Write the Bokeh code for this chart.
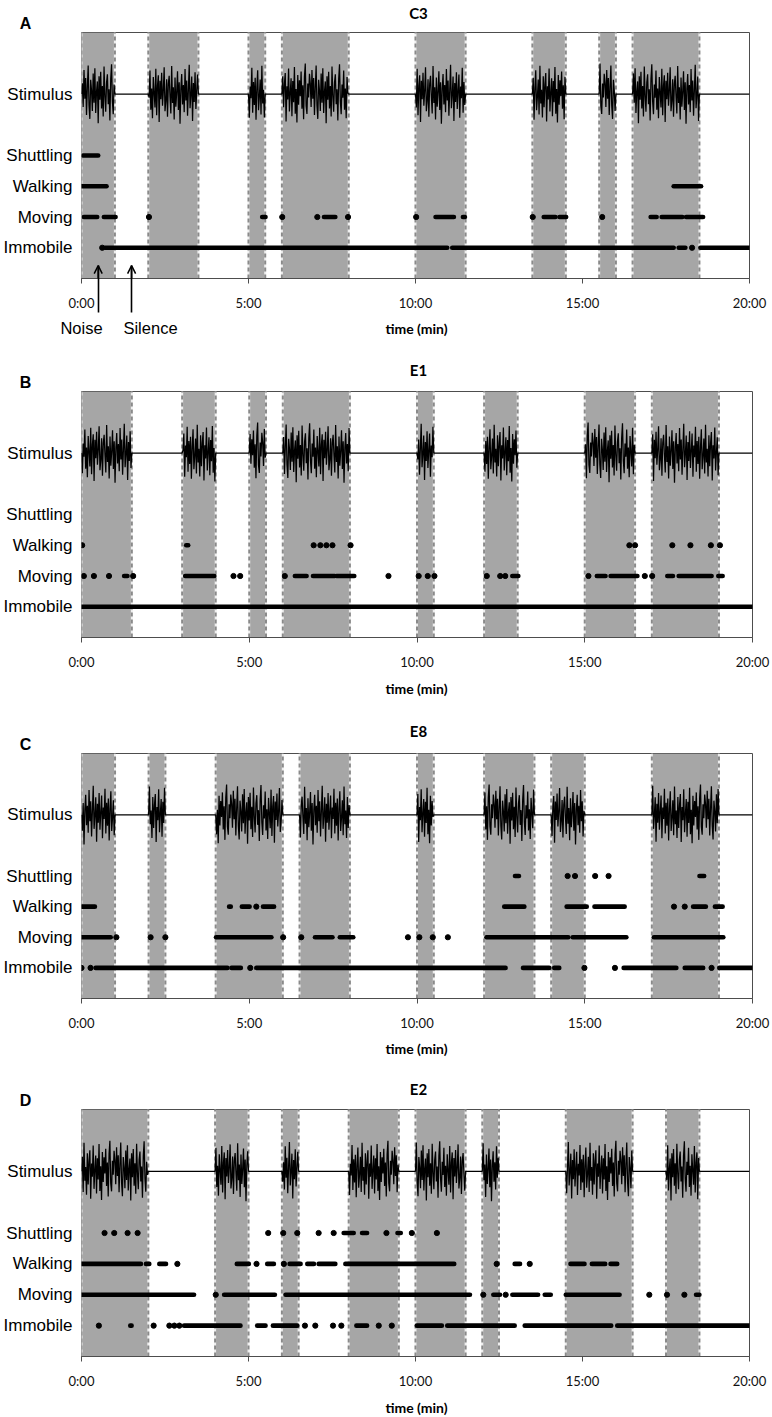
from bokeh.plotting import figure
from bokeh.models import FixedTicker, Arrow, OpenHead, Range1d
from bokeh.core.properties import value
from bokeh.embed import file_html
from bokeh.resources import INLINE

# ---------------- data ----------------
TIME_TICKS = [0, 5, 10, 15, 20]
TIME_LABELS = ["0:00", "5:00", "10:00", "15:00", "20:00"]
ROW_NAMES = ["Immobile", "Moving", "Walking", "Shuttling", "Stimulus"]
ROW_LEVELS = [1, 2, 3, 4, 6]
PANEL_LETTERS = ["A", "B", "C", "D"]
PANEL_TITLES = ["C3", "E1", "E8", "E2"]

# hand-read noise amplitudes of the stimulus trace (relative, -1..1)
NOISE = [
    0.35, -0.42, 0.78, -0.15, 0.52, -0.68, 0.21, 0.93, -0.37, -0.81, 0.46, 0.12, -0.55, 0.67, -0.28, 0.84, -0.62, 0.08, 0.41, -0.95,
    0.58, -0.19, 0.72, -0.47, 0.26, -0.73, 0.89, -0.05, -0.58, 0.37, 0.64, -0.33, 0.15, -0.86, 0.49, 0.97, -0.24, -0.66, 0.31, -0.12,
    0.76, -0.51, 0.18, -0.79, 0.55, 0.03, -0.44, 0.82, -0.69, 0.27, 0.61, -0.91, 0.43, -0.17, 0.69, -0.38, 0.11, 0.87, -0.56, -0.23,
    0.48, -0.74, 0.33, 0.59, -0.08, -0.63, 0.91, -0.29, 0.22, -0.83, 0.54, -0.41, 0.06, 0.74, -0.52, 0.38, -0.97, 0.17, 0.65, -0.34,
    0.29, -0.59, 0.81, -0.21, 0.44, -0.71, 0.13, 0.95, -0.46, -0.02, 0.57, -0.88, 0.36, -0.26, 0.71, -0.49, 0.09, 0.63, -0.77, 0.24,
    -0.14, 0.85, -0.61, 0.39, -0.36, 0.53, -0.84, 0.19, 0.77, -0.53, -0.09, 0.47, -0.67, 0.92, -0.31, 0.14, -0.76, 0.58, -0.43, 0.32,
    0.68, -0.89, 0.25, -0.18, 0.83, -0.57, 0.04, 0.51, -0.72, 0.42, -0.27, 0.88, -0.64, 0.16, -0.93, 0.62, -0.35, 0.45, -0.07, 0.73,
    -0.48, 0.28, -0.82, 0.56, 0.99, -0.39, -0.65, 0.34, -0.11, 0.66,
]
NOISE_STEP = 1 / 40  # minutes between stimulus samples

# Panel A (C3)
A_blocks = [(0, 1), (2, 3.5), (5, 5.5), (6, 8), (10, 11.5), (13.5, 14.5), (15.5, 16), (16.5, 18.5)]
A_shuttling = [(0.05, 0.5)]
A_walking = [(0.0, 0.75), (17.73, 18.55)]
A_moving = [(0.07, 0.47), (0.67, 1.02), (2.02, 2.02), (5.41, 5.51), (6.01, 6.01), (7.06, 7.06), (7.26, 7.6),
            (7.98, 7.98), (10.02, 10.02), (10.6, 11.15), (11.42, 11.48), (13.51, 13.51), (13.84, 14.19),
            (14.31, 14.51), (15.59, 15.59), (17.04, 17.22), (17.37, 17.99), (18.1, 18.61)]
A_immobile = [(0.62, 0.62), (0.7, 10.95), (11.1, 17.73), (17.88, 18.08), (18.28, 18.28), (18.53, 20.0)]

# Panel B (E1)
B_blocks = [(0, 1.5), (3, 4), (5, 5.5), (6, 8), (10, 10.5), (12, 13), (15, 16.5), (17, 19)]
B_shuttling = []
B_walking = [(0.02, 0.02), (3.12, 3.18), (6.92, 6.92), (7.12, 7.12), (7.3, 7.3), (7.48, 7.48), (8.02, 8.02),
             (16.33, 16.33), (16.5, 16.5), (17.61, 17.61), (18.15, 18.15), (18.76, 18.76), (19.03, 19.03)]
B_moving = [(0.07, 0.07), (0.37, 0.37), (0.82, 0.82), (1.27, 1.37), (1.54, 1.54), (3.09, 3.96), (4.53, 4.53),
            (4.73, 4.73), (6.06, 6.06), (6.36, 6.71), (6.9, 7.55), (7.6, 8.13), (9.15, 9.15), (10.05, 10.05),
            (10.32, 10.32), (10.52, 10.52), (12.08, 12.08), (12.48, 12.48), (12.63, 12.63), (12.84, 13.02),
            (15.11, 15.11), (15.36, 15.62), (15.77, 16.57), (16.79, 16.79), (17.01, 17.01), (17.46, 17.63),
            (17.8, 18.78), (18.98, 19.11)]
B_immobile = [(0.0, 20.0)]

# Panel C (E8)
C_blocks = [(0, 1), (2, 2.5), (4, 6), (6.5, 8), (10, 10.5), (12, 13.5), (14, 15), (17, 19)]
C_shuttling = [(12.92, 13.04), (14.49, 14.49), (14.71, 14.71), (15.31, 15.31), (15.71, 15.71), (18.42, 18.56)]
C_walking = [(0.02, 0.4), (4.4, 4.45), (4.78, 5.01), (5.21, 5.21), (5.41, 5.74), (12.6, 13.2), (14.46, 15.06),
             (15.29, 16.19), (17.66, 17.66), (17.98, 17.98), (18.23, 18.61), (18.88, 19.11)]
C_moving = [(0.0, 0.87), (1.04, 1.04), (2.06, 2.06), (2.5, 2.5), (4.01, 5.66), (6.01, 6.01), (6.55, 6.55),
            (6.96, 7.48), (7.7, 8.1), (9.73, 9.73), (10.07, 10.07), (10.47, 10.47), (10.92, 10.92),
            (12.07, 14.51), (14.64, 16.24), (17.06, 19.13)]
C_immobile = [(0.0, 0.0), (0.27, 0.27), (0.42, 4.35), (4.47, 4.75), (5.03, 5.03), (5.21, 12.64), (13.16, 13.94),
              (14.09, 14.24), (14.99, 14.99), (15.9, 15.9), (16.16, 17.73), (17.98, 18.53), (18.78, 18.78),
              (19.01, 20.0)]

# Panel D (E2)
D_blocks = [(0, 2), (4, 5), (6, 6.5), (8, 9.5), (10, 11.5), (12, 12.5), (14.5, 16.5), (17.5, 18.5)]
D_shuttling = [(0.69, 0.69), (0.98, 0.98), (1.38, 1.38), (1.68, 1.68), (5.59, 5.59), (6.04, 6.04), (6.46, 6.46),
               (7.1, 7.1), (7.55, 7.55), (7.85, 8.15), (8.4, 8.55), (9.13, 9.13), (9.46, 9.56), (9.89, 9.89),
               (10.64, 10.64)]
D_walking = [(0.0, 1.78), (1.93, 2.03), (2.33, 2.53), (2.87, 2.87), (4.65, 5.01), (5.24, 5.24), (5.56, 5.76),
             (6.06, 6.06), (6.23, 6.56), (6.76, 6.96), (7.1, 7.6), (7.9, 11.16), (12.43, 12.43), (12.97, 13.13),
             (13.42, 13.42), (14.64, 15.06), (15.28, 15.68), (15.84, 16.04)]
D_moving = [(0.0, 3.37), (4.02, 4.02), (4.27, 5.79), (6.11, 11.63), (12.03, 12.03), (12.33, 12.53), (12.7, 12.7),
            (12.9, 13.67), (13.87, 14.05), (14.5, 16.11), (17.0, 17.0), (17.53, 17.53), (18.05, 18.05),
            (18.4, 18.5)]
D_immobile = [(0.52, 0.52), (1.46, 1.5), (2.16, 2.16), (2.63, 2.63), (2.78, 2.78), (2.93, 2.93), (3.07, 4.76),
              (5.26, 5.51), (5.73, 6.46), (6.69, 6.69), (7.0, 7.0), (7.53, 7.53), (7.78, 7.78), (8.23, 8.55),
              (8.9, 8.9), (9.29, 9.29), (10.04, 10.79), (10.95, 12.97), (13.27, 15.86), (16.04, 20.0)]

# ---------------- drawing ----------------
X_MAX, Y_MAX = 20, 8
PAGE_W = 772
FRAME_LEFT = 81
B_BOTTOM = 40
OUTLINE = "#4d4d4d"
SHADE = "#a6a6a6"
LABEL_FONT = "Liberation Sans"
CAL_FONT = "Lato"
TICK_OUT = 5
LABEL_GAP = 16      # tick length + standoff between frame bottom and the time labels
ARROW_TAIL = 34     # how far the arrow shafts reach below the frame
ARROW_IN = 13       # how far the arrow shafts reach into the frame


def stimulus_trace(blocks, k0):
    xs, ys = [0.0], [6.0]
    k = k0
    for s, e in blocks:
        n = int(round((e - s) / NOISE_STEP))
        xs.append(s)
        ys.append(6.0)
        for i in range(1, n):
            xs.append(s + i * NOISE_STEP)
            ys.append(6.0 + NOISE[k % len(NOISE)])
            k += 1
        xs.append(e)
        ys.append(6.0)
    xs.append(float(X_MAX))
    ys.append(6.0)
    return xs, ys


def draw_row(p, intervals, level):
    runs = [(s, e) for s, e in intervals if e > s]
    pts = [s for s, e in intervals if e == s]
    if runs:
        p.segment(x0=[r[0] for r in runs], x1=[r[1] for r in runs],
                  y0=[level] * len(runs), y1=[level] * len(runs),
                  line_width=4.6, line_color="black", line_cap="round")
    if pts:
        p.scatter(x=pts, y=[level] * len(pts), size=5.2, color="black")


def make_panel(blocks, shuttling, walking, moving, immobile, frame_h, frame_right, k0, arrows=False):
    p = figure(width=PAGE_W, height=frame_h + B_BOTTOM, x_range=(0, X_MAX), y_range=(0, Y_MAX),
               output_backend="svg", toolbar_location=None, title=None,
               min_border_left=FRAME_LEFT, min_border_right=PAGE_W - frame_right,
               min_border_top=0, min_border_bottom=B_BOTTOM)
    p.background_fill_color = "white"
    p.border_fill_color = "white"
    p.outline_line_color = OUTLINE
    p.outline_line_width = 1
    p.xgrid.grid_line_color = None
    p.ygrid.grid_line_color = None

    # shaded noise periods
    p.quad(left=[b[0] for b in blocks], right=[b[1] for b in blocks],
           bottom=0, top=Y_MAX, fill_color=SHADE, line_color=None)
    edges = sorted(set([b[0] for b in blocks] + [b[1] for b in blocks]))
    p.segment(x0=edges, x1=edges, y0=0, y1=Y_MAX, line_color="#eeeeee", line_width=2)
    p.segment(x0=edges, x1=edges, y0=0, y1=Y_MAX, line_color="#8a8a8a", line_width=2, line_dash="4 3")

    # stimulus
    xs, ys = stimulus_trace(blocks, k0)
    p.line(xs, ys, line_color="black", line_width=1.25)

    # behaviours
    draw_row(p, immobile, 1)
    draw_row(p, moving, 2)
    draw_row(p, walking, 3)
    draw_row(p, shuttling, 4)

    # axes
    minor = []
    if arrows:
        # arrows point at the first noise period and the first silent period
        noise_x = (blocks[0][0] + blocks[0][1]) / 2
        silence_x = (blocks[0][1] + blocks[1][0]) / 2
        minor = [noise_x, silence_x]
    p.xaxis.ticker = FixedTicker(ticks=TIME_TICKS, minor_ticks=minor)
    p.xaxis.major_label_overrides = {t: l for t, l in zip(TIME_TICKS, TIME_LABELS)}
    p.xaxis.axis_line_color = OUTLINE
    p.xaxis.major_tick_line_color = OUTLINE
    p.xaxis.major_tick_out = TICK_OUT
    p.xaxis.major_tick_in = 0
    p.xaxis.major_label_text_font = CAL_FONT
    p.xaxis.major_label_text_font_size = "13px"
    p.xaxis.major_label_text_color = "#111111"
    if arrows:
        # the arrow shafts are long minor ticks; labels keep their usual distance
        p.xaxis.minor_tick_line_color = "black"
        p.xaxis.minor_tick_line_width = 1.6
        p.xaxis.minor_tick_in = ARROW_IN
        p.xaxis.minor_tick_out = ARROW_TAIL
        p.xaxis.major_label_standoff = LABEL_GAP - ARROW_TAIL
        for ax in minor:
            p.add_layout(Arrow(end=OpenHead(size=8, line_width=1.5, line_color="black"),
                               x_start=ax, y_start=0, x_end=ax, y_end=0.42,
                               line_width=1.6, line_color="black"))
    else:
        p.xaxis.minor_tick_line_color = None
        p.xaxis.major_label_standoff = LABEL_GAP - TICK_OUT

    p.yaxis.ticker = FixedTicker(ticks=ROW_LEVELS, minor_ticks=[])
    p.yaxis.major_label_overrides = {lv: n for lv, n in zip(ROW_LEVELS, ROW_NAMES)}
    p.yaxis.axis_line_color = None
    p.yaxis.major_tick_line_color = None
    p.yaxis.minor_tick_line_color = None
    p.yaxis.major_tick_out = 0
    p.yaxis.major_tick_in = 0
    p.yaxis.major_label_standoff = 9
    p.yaxis.major_label_text_font = LABEL_FONT
    p.yaxis.major_label_text_font_size = "17px"
    p.yaxis.major_label_text_color = "black"
    return p


def make_strip(h, items):
    s = figure(width=PAGE_W, height=h, x_range=Range1d(0, PAGE_W), y_range=Range1d(h, 0),
               x_axis_type=None, y_axis_type=None, output_backend="svg", toolbar_location=None,
               min_border=0, min_border_left=0, min_border_right=0, min_border_top=0, min_border_bottom=0)
    s.outline_line_color = None
    s.background_fill_color = "white"
    s.border_fill_color = "white"
    for (x, y, t, font, size, style) in items:
        s.text(x=[x], y=[y], text=[t], text_font=value(font), text_font_size=size,
               text_font_style=style, text_align="center", text_baseline="middle", text_color="black")
    return s


def letter(x, y, i):
    return (x, y, PANEL_LETTERS[i], LABEL_FONT, "16px", "bold")


def title(x, y, i):
    return (x, y, PANEL_TITLES[i], CAL_FONT, "15px", "bold")


def time_label(y):
    return (416, y, "time (min)", CAL_FONT, "14px", "bold")


# page layout (pixels, top to bottom): strips hold titles / letters / axis captions
s0 = make_strip(32, [letter(25, 23, 0), title(418, 12, 0)])
pA = make_panel(A_blocks, A_shuttling, A_walking, A_moving, A_immobile, 246, 749, 0, arrows=True)   # 32..318
s1 = make_strip(73, [(81, 9.5, "Noise", LABEL_FONT, "16.5px", "normal"),
                     (150, 9.5, "Silence", LABEL_FONT, "16.5px", "normal"),
                     time_label(9.5), title(418, 51, 1), letter(25, 64, 1)])                          # 318..391
pB = make_panel(B_blocks, B_shuttling, B_walking, B_moving, B_immobile, 246, 752, 37)                # 391..677
s2 = make_strip(76, [time_label(11), title(418, 53, 2), letter(25, 67, 2)])                           # 677..753
pC = make_panel(C_blocks, C_shuttling, C_walking, C_moving, C_immobile, 245, 752, 74)                # 753..1038
s3 = make_strip(71, [time_label(10), title(418, 50, 3), letter(25, 62, 3)])                           # 1038..1109
pD = make_panel(D_blocks, D_shuttling, D_walking, D_moving, D_immobile, 247, 749, 111)               # 1109..1396
s4 = make_strip(21, [time_label(10.5)])                                                               # 1396..1417

roots = [s0, pA, s1, pB, s2, pC, s3, pD, s4]
open("out.html", "w").write(file_html(roots, INLINE))
